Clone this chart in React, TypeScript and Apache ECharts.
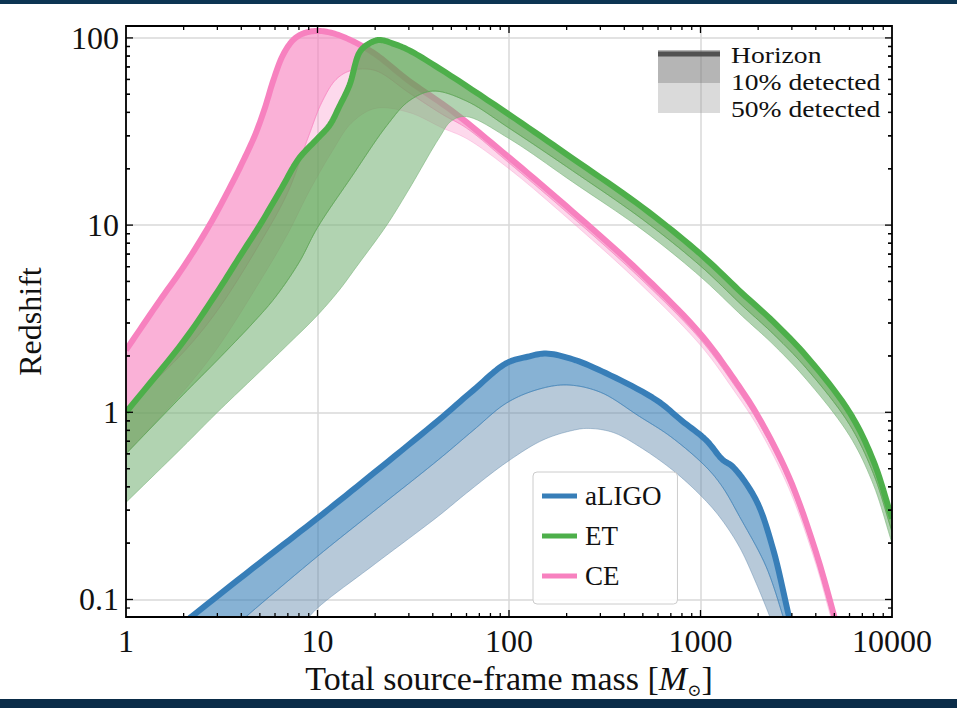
import React, { useEffect, useRef } from "react";
import * as echarts from "echarts";

const FONT = '"Liberation Serif", "Times New Roman", serif';

const X_MIN = 1;
const X_MAX = 10000;
const Y_MIN = 0.0806;
const Y_MAX = 115.8;

const xTickLabels = ["1", "10", "100", "1000", "10000"];
const yTickLabels = ["0.1", "1", "10", "100"];
const minorMultipliers = [2, 3, 4, 5, 6, 7, 8, 9];

const legendNames = ["aLIGO", "ET", "CE"];
const lineColors: Record<string, string> = { aLIGO: "#377eb8", ET: "#4daf4a", CE: "#f781bf" };
const bandLegend = ["Horizon", "10% detected", "50% detected"];

// [total source-frame mass, redshift]
const aligoHorizon = [
  [2.0, 0.075], [2.2, 0.081], [5, 0.157], [10, 0.272], [20, 0.48], [43, 0.91], [65, 1.31], [97, 1.83],
  [125, 1.98], [156, 2.06], [215, 1.92], [320, 1.62], [590, 1.16], [800, 0.9], [1070, 0.71], [1300, 0.56],
  [1480, 0.51], [1950, 0.34], [2400, 0.184], [2900, 0.081], [3000, 0.072],
];
const aligo10 = [
  [3.9, 0.075], [4.24, 0.081], [10, 0.17], [20, 0.3], [43, 0.56], [65, 0.8], [97, 1.12], [140, 1.32],
  [200, 1.4], [300, 1.28], [480, 0.95], [700, 0.74], [1070, 0.51], [1300, 0.4], [1600, 0.277], [2200, 0.15],
  [2700, 0.081], [2800, 0.072],
];
const aligo50 = [
  [8.5, 0.075], [10, 0.09], [20, 0.155], [43, 0.28], [60, 0.37], [97, 0.54], [150, 0.71], [215, 0.8],
  [260, 0.82], [350, 0.78], [480, 0.655], [717, 0.49], [1000, 0.36], [1256, 0.277], [1600, 0.19],
  [1954, 0.122], [2300, 0.081], [2400, 0.072],
];

const ceHorizon = [
  [1, 2.15], [1.5, 3.95], [2, 6.0], [2.73, 10], [3.5, 16], [4, 21], [4.7, 30], [5.3, 42], [5.9, 60],
  [6.6, 81], [7.5, 98], [8.5, 106], [10, 109], [12, 106], [15, 97], [20, 82], [30, 59], [50, 41], [100, 23],
  [215, 11.8], [480, 5.64], [1000, 2.62], [1500, 1.5], [2000, 0.95], [2900, 0.45], [4000, 0.18], [5000, 0.081],
  [5200, 0.07],
];
const ce10 = [
  [1, 1.05], [2, 2.1], [3, 3.5], [5, 8], [7, 15], [9, 30], [10.5, 45], [12.5, 60], [15, 67], [20, 67],
  [30, 51], [45, 39], [60, 33], [100, 21.5], [215, 11.0], [480, 5.25], [1000, 2.45], [1500, 1.4], [2000, 0.89],
  [2900, 0.42], [4000, 0.167], [4900, 0.08], [5100, 0.07],
];
const ce50 = [
  [1, 0.6], [2, 1.3], [3, 2.2], [5, 5], [7, 9], [9, 15], [12, 25], [15, 35], [20, 42], [30, 40], [45, 33],
  [60, 29], [100, 20], [215, 10.3], [480, 4.9], [1000, 2.28], [1500, 1.3], [2000, 0.83], [2900, 0.39],
  [4000, 0.155], [4800, 0.08], [5000, 0.07],
];

const etHorizon = [
  [1, 1.0], [2, 2.4], [3, 4.4], [4, 7.0], [5, 10], [6.5, 15.8], [8, 22.7], [10, 29], [11.6, 34.3], [13, 43],
  [14.7, 56], [16.6, 84], [18.5, 93], [21, 97.5], [25, 93], [30, 86], [43, 69], [100, 39], [215, 22.7],
  [500, 12.4], [1000, 7.0], [1660, 4.3], [2400, 3.05], [3565, 2.0], [6000, 1.0], [8000, 0.55], [10000, 0.27],
];
const et10 = [
  [1, 0.6], [2, 1.25], [3, 1.9], [4.6, 3.0], [6, 4.1], [8, 6.3], [10, 9.7], [15, 18], [23, 34], [30, 46],
  [40, 52], [60, 46], [100, 33], [215, 19.5], [500, 10.7], [1000, 6.05], [1660, 3.7], [2400, 2.62],
  [3565, 1.72], [6000, 0.86], [8000, 0.47], [10000, 0.23],
];
const et50 = [
  [1, 0.33], [2, 0.66], [3, 1.0], [5, 1.65], [7, 2.3], [10, 3.3], [13, 4.5], [16, 6.0], [23, 10], [30, 15.5],
  [43, 29], [50, 36], [60, 38], [100, 29], [215, 17], [500, 9.4], [1000, 5.3], [1660, 3.25], [2400, 2.3],
  [3565, 1.5], [6000, 0.75], [8000, 0.41], [10000, 0.2],
];

// centripetal Catmull-Rom through pixel points (rendering only)
function smoothPx(pts: number[][], steps = 10): number[][] {
  const n = pts.length;
  if (n < 3) return pts.slice();
  const out: number[][] = [];
  const dist = (a: number[], b: number[]) => Math.max(Math.sqrt(Math.hypot(b[0] - a[0], b[1] - a[1])), 1e-4);
  for (let i = 0; i < n - 1; i++) {
    const p1 = pts[i];
    const p2 = pts[i + 1];
    const p0 = i > 0 ? pts[i - 1] : [2 * p1[0] - p2[0], 2 * p1[1] - p2[1]];
    const p3 = i < n - 2 ? pts[i + 2] : [2 * p2[0] - p1[0], 2 * p2[1] - p1[1]];
    const t0 = 0;
    const t1 = t0 + dist(p0, p1);
    const t2 = t1 + dist(p1, p2);
    const t3 = t2 + dist(p2, p3);
    for (let s = 0; s < steps; s++) {
      const t = t1 + ((t2 - t1) * s) / steps;
      const mix = (a: number[], b: number[], ta: number, tb: number) => {
        const w = (t - ta) / (tb - ta);
        return [a[0] * (1 - w) + b[0] * w, a[1] * (1 - w) + b[1] * w];
      };
      const A1 = mix(p0, p1, t0, t1);
      const A2 = mix(p1, p2, t1, t2);
      const A3 = mix(p2, p3, t2, t3);
      const B1 = mix(A1, A2, t0, t2);
      const B2 = mix(A2, A3, t1, t3);
      out.push(mix(B1, B2, t1, t2));
    }
  }
  out.push(pts[n - 1]);
  return out;
}

function detectorSeries(
  name: string,
  horizon: number[][],
  p10: number[][],
  p50: number[][],
  fill10: string,
  fill50: string
) {
  const color = lineColors[name];
  return {
    type: "custom",
    name,
    coordinateSystem: "cartesian2d",
    clip: true,
    silent: true,
    z: 2,
    itemStyle: { color },
    encode: { x: 0, y: 1 },
    data: [[horizon[0][0], horizon[0][1]]],
    renderItem: (_params: any, api: any) => {
      const px = (arr: number[][]) => smoothPx(arr.map((p) => api.coord(p)));
      const h = px(horizon);
      const a = px(p10);
      const b = px(p50);
      return {
        type: "group",
        children: [
          {
            type: "polygon",
            shape: { points: a.concat(b.slice().reverse()) },
            style: { fill: fill50, stroke: fill50, lineWidth: 1 },
          },
          {
            type: "polygon",
            shape: { points: h.concat(a.slice().reverse()) },
            style: { fill: fill10, stroke: fill10, lineWidth: 1 },
          },
          {
            type: "polyline",
            shape: { points: h },
            style: { stroke: color, lineWidth: 6, fill: "none", lineJoin: "round" },
          },
        ],
      };
    },
  };
}

function fmt(v: number, labels: string[]) {
  const s = String(parseFloat(Number(v).toPrecision(6)));
  return labels.includes(s) ? s : "";
}

const xMajors = xTickLabels.map(Number);
const yMajors = yTickLabels.map(Number);

const frameSeries = {
  type: "custom",
  name: "frame",
  coordinateSystem: "cartesian2d",
  clip: false,
  silent: true,
  z: 10,
  encode: { x: 0, y: 1 },
  data: [[X_MIN, Y_MIN]],
  renderItem: (_params: any, api: any) => {
    const children: any[] = [];
    const [x0, y0] = api.coord([X_MIN, Y_MIN]);
    const [x1, y1] = api.coord([X_MAX, Y_MAX]);
    const line = (ax: number, ay: number, bx: number, by: number) =>
      children.push({
        type: "line",
        shape: { x1: ax, y1: ay, x2: bx, y2: by },
        style: { stroke: "#000", lineWidth: 1.3 },
      });
    const xVals: [number, number][] = [];
    xMajors.forEach((m) => {
      xVals.push([m, 7]);
      minorMultipliers.forEach((k) => xVals.push([k * m, 4]));
    });
    xVals.forEach(([v, len]) => {
      if (v <= X_MIN || v >= X_MAX) return;
      const x = api.coord([v, Y_MIN])[0];
      line(x, y0, x, y0 - len);
      line(x, y1, x, y1 + len);
    });
    const yVals: [number, number][] = [];
    yMajors.forEach((m) => {
      yVals.push([m, 7]);
      minorMultipliers.forEach((k) => {
        yVals.push([k * m, 4]);
        yVals.push([(k * m) / 10, 4]);
      });
    });
    yVals.forEach(([v, len]) => {
      if (v <= Y_MIN || v >= Y_MAX) return;
      const y = api.coord([X_MIN, v])[1];
      line(x0, y, x0 + len, y);
      line(x1, y, x1 - len, y);
    });
    children.push({
      type: "rect",
      shape: { x: x0, y: y1, width: x1 - x0, height: y0 - y1 },
      style: { stroke: "#000", lineWidth: 1.8, fill: "none" },
    });
    return { type: "group", children };
  },
};

const option: any = {
  animation: false,
  backgroundColor: "#ffffff",
  grid: { left: 126, right: 65, top: 26, bottom: 91 },
  xAxis: {
    type: "log",
    logBase: 10,
    min: X_MIN,
    max: X_MAX,
    position: "bottom",
    axisLine: { show: false },
    axisTick: { show: false },
    splitLine: { show: true, lineStyle: { color: "#d9d9d9", width: 1.5 } },
    axisLabel: {
      fontFamily: FONT,
      fontSize: 32,
      color: "#111",
      margin: 8,
      formatter: (v: number) => fmt(v, xTickLabels),
    },
    name: "{a|Total source-frame mass [}{m|M}{s|⊙}{a|]}",
    nameLocation: "middle",
    nameGap: 41,
    nameTextStyle: {
      fontFamily: FONT,
      fontSize: 34,
      color: "#111",
      rich: {
        a: { fontFamily: FONT, fontSize: 34, color: "#111", lineHeight: 40 },
        m: { fontFamily: FONT, fontSize: 34, color: "#111", fontStyle: "italic", lineHeight: 40 },
        s: { fontFamily: "DejaVu Serif", fontSize: 17, color: "#111", lineHeight: 17, verticalAlign: "bottom" },
      },
    },
  },
  yAxis: {
    type: "log",
    logBase: 10,
    min: Y_MIN,
    max: Y_MAX,
    axisLine: { show: false },
    axisTick: { show: false },
    splitLine: { show: true, lineStyle: { color: "#d9d9d9", width: 1.5 } },
    axisLabel: {
      fontFamily: FONT,
      fontSize: 32,
      color: "#111",
      margin: 7,
      formatter: (v: number) => fmt(v, yTickLabels),
    },
    name: "Redshift",
    nameLocation: "middle",
    nameGap: 80,
    nameRotate: 90,
    nameTextStyle: { fontFamily: FONT, fontSize: 32, color: "#111" },
  },
  legend: {
    data: legendNames.map((n) => ({ name: n, itemStyle: { color: lineColors[n] } })),
    orient: "vertical",
    left: 533,
    top: 472,
    icon: "rect",
    itemWidth: 35,
    itemHeight: 5,
    itemGap: 12,
    padding: [10, 16, 14, 9],
    backgroundColor: "rgba(255,255,255,0.85)",
    borderColor: "#cccccc",
    borderWidth: 1,
    borderRadius: 4,
    selectedMode: false,
    textStyle: { fontFamily: FONT, fontSize: 27, color: "#111", lineHeight: 28, padding: [0, 0, 0, 3] },
  },
  graphic: [
    { type: "rect", left: 0, top: 0, shape: { width: 957, height: 4 }, style: { fill: "#0d3553" }, z: 100 },
    { type: "rect", left: 0, top: 699, shape: { width: 957, height: 9 }, style: { fill: "#0a2c48" }, z: 100 },
    { type: "rect", x: 658, y: 50, shape: { width: 62, height: 33 }, style: { fill: "rgba(120,120,120,0.55)" }, z: 100 },
    { type: "rect", x: 658, y: 83, shape: { width: 62, height: 30 }, style: { fill: "rgba(150,150,150,0.35)" }, z: 100 },
    { type: "rect", x: 658, y: 51.5, shape: { width: 62, height: 5 }, style: { fill: "rgba(70,70,70,0.9)" }, z: 101 },
    ...bandLegend.map((t, i) => ({
      type: "text",
      x: 731,
      y: 55 + i * 27,
      scaleX: 1.15,
      z: 101,
      style: {
        text: t,
        fontFamily: FONT,
        fontSize: 24,
        fill: "#111",
        textVerticalAlign: "middle",
        verticalAlign: "middle",
      },
    })),
  ],
  series: [
    detectorSeries("aLIGO", aligoHorizon, aligo10, aligo50, "rgba(55,126,184,0.6)", "rgba(95,135,170,0.45)"),
    detectorSeries("CE", ceHorizon, ce10, ce50, "rgba(247,129,191,0.62)", "rgba(247,129,191,0.3)"),
    detectorSeries("ET", etHorizon, et10, et50, "rgba(95,165,85,0.74)", "rgba(120,180,120,0.58)"),
    frameSeries,
  ],
};

export default function App() {
  const ref = useRef<HTMLDivElement>(null);
  useEffect(() => {
    if (!ref.current) return;
    const chart = echarts.init(ref.current, undefined, { renderer: "svg" });
    chart.setOption(option);
    return () => chart.dispose();
  }, []);
  return (
    <div
      ref={ref}
      style={{ position: "fixed", left: 0, top: 0, width: 957, height: 708, background: "#fff" }}
    />
  );
}
